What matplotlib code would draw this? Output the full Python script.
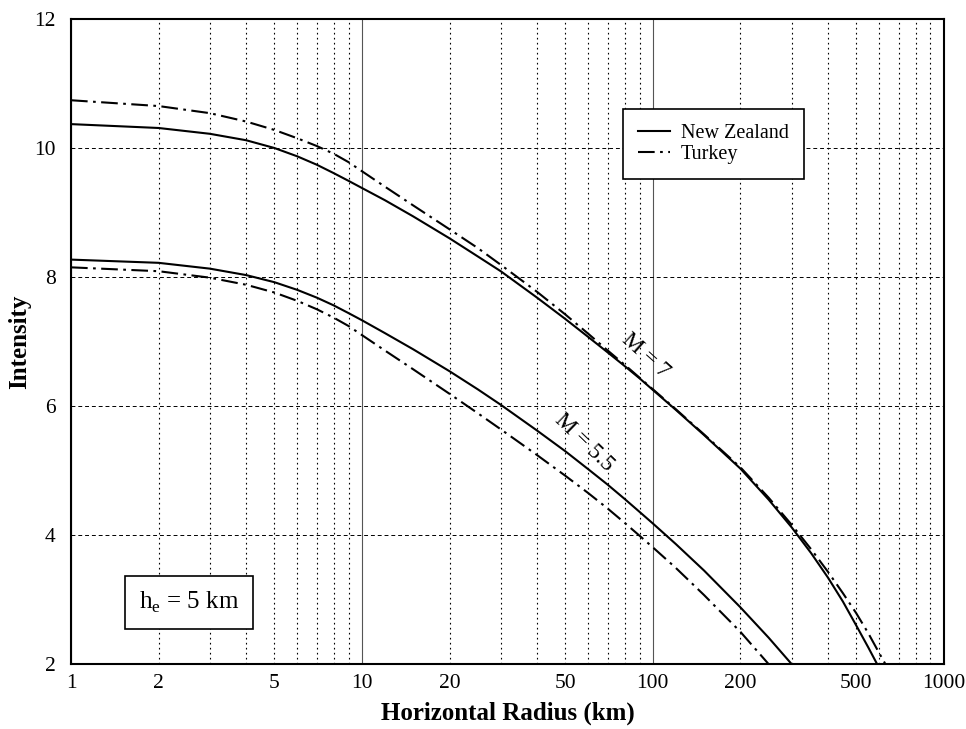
import matplotlib
matplotlib.use("Agg")
import matplotlib.pyplot as plt

plt.rcParams['font.family'] = ['Liberation Serif', 'DejaVu Serif']
plt.rcParams['mathtext.fontset'] = 'custom'
plt.rcParams['mathtext.rm'] = 'Liberation Serif'

# ---- data ----
nz7_x = [1, 2, 3, 4, 5, 6, 7, 8, 9, 10, 12, 15, 20, 25, 30, 40, 50, 60, 70, 80, 90, 100,
         120, 150, 200, 250, 300, 350, 400, 450, 500, 550, 590]
nz7_y = [10.37, 10.31, 10.22, 10.12, 10.00, 9.87, 9.74, 9.61, 9.49, 9.38, 9.19, 8.94, 8.60, 8.32,
         8.09, 7.68, 7.35, 7.07, 6.83, 6.62, 6.43, 6.25, 5.94, 5.55, 5.03, 4.55, 4.12, 3.72, 3.34,
         2.97, 2.60, 2.26, 2.00]

tk7_x = [1, 2, 3, 4, 5, 6, 7, 8, 9, 10, 12, 15, 20, 25, 30, 40, 50, 60, 70, 80, 90, 100,
         120, 150, 200, 250, 300, 350, 400, 450, 500, 550, 600, 630]
tk7_y = [10.74, 10.65, 10.54, 10.41, 10.28, 10.15, 10.03, 9.91, 9.78, 9.64, 9.40, 9.11, 8.74, 8.45,
         8.19, 7.77, 7.42, 7.12, 6.86, 6.64, 6.44, 6.26, 5.95, 5.56, 5.05, 4.58, 4.16, 3.78, 3.43,
         3.10, 2.79, 2.48, 2.17, 2.00]

nz55_x = [1, 2, 3, 4, 5, 6, 7, 8, 9, 10, 12, 15, 20, 25, 30, 40, 50, 60, 70, 80, 90, 100,
          120, 150, 200, 250, 300]
nz55_y = [8.27, 8.22, 8.13, 8.03, 7.92, 7.80, 7.68, 7.56, 7.44, 7.33, 7.13, 6.88, 6.54, 6.26,
          6.02, 5.62, 5.30, 5.02, 4.78, 4.56, 4.36, 4.18, 3.86, 3.45, 2.88, 2.41, 2.00]

tk55_x = [1, 2, 3, 4, 5, 6, 7, 8, 9, 10, 12, 15, 20, 25, 30, 40, 50, 60, 70, 80, 90, 100,
          120, 150, 200, 250]
tk55_y = [8.15, 8.09, 7.99, 7.88, 7.76, 7.63, 7.50, 7.37, 7.24, 7.10, 6.86, 6.57, 6.19, 5.89,
          5.64, 5.24, 4.92, 4.65, 4.41, 4.19, 3.99, 3.81, 3.49, 3.07, 2.50, 2.00]

x_major = [1, 10, 100, 1000]
x_major_labels = ['1', '10', '100', '1000']
x_minor = [2, 3, 4, 5, 6, 7, 8, 9, 20, 30, 40, 50, 60, 70, 80, 90, 200, 300, 400, 500, 600, 700, 800, 900]
x_minor_labels = ['2', '', '', '5', '', '', '', '', '20', '', '', '50', '', '', '', '',
                  '200', '', '', '500', '', '', '', '']
y_ticks = [2, 4, 6, 8, 10, 12]

fig = plt.figure(figsize=(9.66, 7.29), dpi=100)
ax = fig.add_axes([0.0735, 0.089, 0.9035, 0.885])

dashdot = (0, (8, 2.6, 1.3, 2.6))
lw = 1.5
ax.plot(nz7_x, nz7_y, color='black', lw=lw, label='New Zealand')
ax.plot(tk7_x, tk7_y, color='black', lw=lw, linestyle=dashdot, label='Turkey')
ax.plot(nz55_x, nz55_y, color='black', lw=lw)
ax.plot(tk55_x, tk55_y, color='black', lw=lw, linestyle=dashdot)

ax.set_xscale('log')
ax.set_xlim(1, 1000)
ax.set_ylim(2, 12)

ax.set_xticks(x_major, x_major_labels)
ax.set_xticks(x_minor, x_minor_labels, minor=True)
ax.set_yticks(y_ticks)

ax.tick_params(axis='both', which='both', length=0, labelsize=15.5)
ax.tick_params(axis='x', which='both', pad=7)
ax.tick_params(axis='y', pad=11)

ax.grid(axis='x', which='minor', color='black', lw=0.8, linestyle=(0, (1.5, 3)))
ax.grid(axis='x', which='major', color='#555555', lw=0.8, linestyle='-')
ax.grid(axis='y', which='major', color='black', lw=0.7, linestyle=(0, (4, 3)))
ax.set_axisbelow(True)

for s in ax.spines.values():
    s.set_linewidth(1.5)
    s.set_color('black')

ax.set_xlabel('Horizontal Radius (km)', fontsize=18, fontweight='bold', labelpad=6)
ax.set_ylabel('Intensity', fontsize=18, fontweight='bold', labelpad=2)

leg = ax.legend(loc='upper left', bbox_to_anchor=(0.632, 0.861), fontsize=14.5,
                frameon=True, fancybox=False, framealpha=1, edgecolor='black',
                handlelength=1.6, borderpad=0.75, labelspacing=0.1, handletextpad=0.55,
                borderaxespad=0)
leg.get_frame().set_linewidth(1.2)

ax.text(0.135, 0.095, r'h$_\mathrm{e}$ = 5 km', transform=ax.transAxes, fontsize=18,
        ha='center', va='center',
        bbox=dict(boxstyle='square,pad=0.55', facecolor='white', edgecolor='black', lw=1.2))

ax.text(94, 6.78, 'M = 7', fontsize=16.5, rotation=-42, ha='center', va='center',
        rotation_mode='anchor')
ax.text(58, 5.43, 'M = 5.5', fontsize=16.5, rotation=-44, ha='center', va='center',
        rotation_mode='anchor')

fig.savefig('out.png', dpi=100)
